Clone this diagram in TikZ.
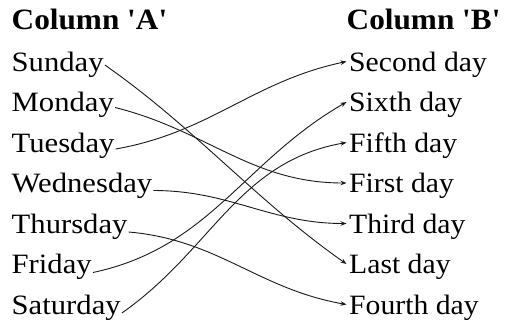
\documentclass[tikz,border=0pt]{standalone}
\usepackage{fontspec}
\setmainfont[FakeStretch=1.06,Ligatures=TeXOff]{Liberation Serif}
\newfontfamily\esquerda[FakeStretch=1.095,Ligatures=TeXOff]{Liberation Serif}
\usetikzlibrary{arrows.meta,positioning}
\tikzset{
  dia/.style={anchor=base west,inner sep=0pt,font=\fontsize{28}{32}\selectfont},
  diaA/.style={dia,font=\fontsize{28}{32}\esquerda},
  titulo/.style={anchor=base west,inner sep=0pt,font=\fontsize{29.5}{32}\selectfont\bfseries},
  seta/.style={-{Stealth[length=6pt,width=4.5pt]},line width=0.9pt,black!90}
}
\begin{document}
\begin{tikzpicture}[x=1pt,y=-1pt]
\useasboundingbox (0,0) rectangle (508,325);
% cabecalhos
\node[titulo] (colA) at (11.5,29) {Column 'A'};
\node[titulo] (colB) at (346.5,29) {Column 'B'};
% coluna A
\node[diaA] (sun) at (11.5,71) {Sunday};
\node[diaA] (mon) at (11.5,111.5) {Monday};
\node[diaA] (tue) at (11.5,152) {Tuesday};
\node[diaA] (wed) at (11.5,192.5) {Wednesday};
\node[diaA] (thu) at (11.5,233) {Thursday};
\node[diaA] (fri) at (11.5,273.5) {Friday};
\node[diaA] (sat) at (11.5,314) {Saturday};
% coluna B
\node[dia] (second) at (349,71) {Second day};
\node[dia] (sixth) at (349,111.5) {Sixth day};
\node[dia] (fifth) at (349,152) {Fifth day};
\node[dia] (first) at (349,192.5) {First day};
\node[dia] (third) at (349,233) {Third day};
\node[dia] (last) at (349,273.5) {Last day};
\node[dia] (fourth) at (349,314) {Fourth day};
% ligacoes
\draw[seta] ([shift={(1pt,6pt)}]sun.base east) to[out=-35,in=145,looseness=0.9] ([shift={(-2.5pt,9.5pt)}]last.base west);
\draw[seta] ([shift={(1pt,4pt)}]mon.base east) to[out=-14,in=180] ([shift={(-2.5pt,9.5pt)}]first.base west);
\draw[seta] ([shift={(1pt,3pt)}]tue.base east) to[out=10,in=192] ([shift={(-2.5pt,9.5pt)}]second.base west);
\draw[seta] ([shift={(1pt,2pt)}]wed.base east) to[out=0,in=180] ([shift={(-2.5pt,9.5pt)}]third.base west);
\draw[seta] ([shift={(1pt,1pt)}]thu.base east) to[out=-5,in=170] ([shift={(-2.5pt,9.5pt)}]fourth.base west);
\draw[seta] ([shift={(1pt,1pt)}]fri.base east) to[out=12,in=210] ([shift={(-2.5pt,9.5pt)}]sixth.base west);
\draw[seta] ([shift={(1pt,1pt)}]sat.base east) to[out=35,in=190] ([shift={(-2.5pt,9.5pt)}]fifth.base west);
\end{tikzpicture}
\end{document}
